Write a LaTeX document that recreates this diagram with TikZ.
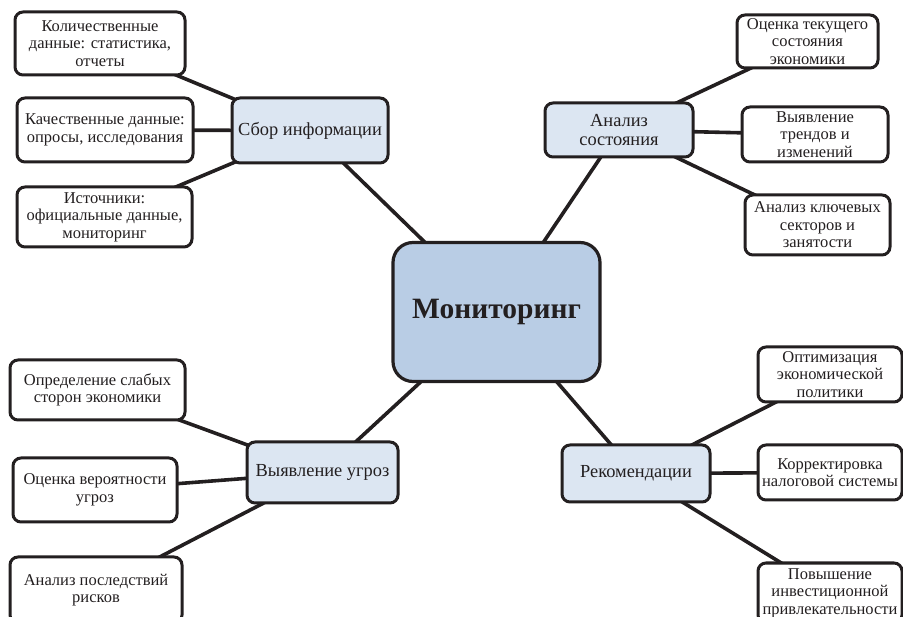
\documentclass[tikz,border=0pt]{standalone}
\usepackage{fontspec}
\setmainfont{Liberation Serif}
\usetikzlibrary{backgrounds}
\definecolor{ink}{HTML}{231F20}
\definecolor{hubfill}{HTML}{DCE6F2}
\definecolor{mainfill}{HTML}{B9CDE5}
\tikzset{
  leaf/.style={draw=ink, line width=3pt, rounded corners=8pt, fill=white, align=center,
    text=ink, inner sep=0pt, font=\fontsize{16.5}{17.5}\selectfont},
  hub/.style={leaf, fill=hubfill, font=\fontsize{18.4}{19.5}\selectfont},
  mainbox/.style={draw=ink, line width=3.2pt, rounded corners=20pt, fill=mainfill, align=center,
    text=ink, inner sep=0pt, font=\fontsize{29.5}{32}\selectfont\bfseries},
  edge/.style={draw=ink, line width=3.6pt}
}
\begin{document}
\begin{tikzpicture}[x=1pt,y=-1pt]
\useasboundingbox (0,0) rectangle (903,617);
\clip (0,0) rectangle (903,617);
\node[mainbox, minimum width=207pt, minimum height=139pt] (c) at (496.5,312) {Мониторинг};
\node[hub, minimum width=156pt, minimum height=65pt] (sbor) at (310,130.5) {Сбор информации};
\node[hub, minimum width=148pt, minimum height=54pt] (an) at (619,130) {Анализ\\состояния};
\node[hub, minimum width=151pt, minimum height=61pt] (vyy) at (322.5,472.5) {Выявление угроз};
\node[hub, minimum width=148pt, minimum height=57pt] (rek) at (636,473.5) {Рекомендации};
\node[leaf, minimum width=170pt, minimum height=63pt] (l1) at (100,43.5) {Количественные\\данные: статистика,\\отчеты};
\node[leaf, minimum width=176pt, minimum height=64pt] (l2) at (105,130) {Качественные данные:\\опросы, исследования};
\node[leaf, minimum width=175pt, minimum height=60pt] (l3) at (104.5,217) {Источники:\\официальные данные,\\мониторинг};
\node[leaf, minimum width=141pt, minimum height=53pt] (r1) at (807.5,41.5) {Оценка текущего\\состояния\\экономики};
\node[leaf, minimum width=146pt, minimum height=55pt] (r2) at (815,134.5) {Выявление\\трендов и\\изменений};
\node[leaf, minimum width=145pt, minimum height=60pt] (r3) at (817.5,225) {Анализ ключевых\\секторов и\\занятости};
\node[leaf, minimum width=175pt, minimum height=60pt] (b1) at (97.5,390) {Определение слабых\\сторон экономики};
\node[leaf, minimum width=164pt, minimum height=64pt] (b2) at (95,490) {Оценка вероятности\\угроз};
\node[leaf, minimum width=172pt, minimum height=66pt] (b3) at (96,590) {Анализ последствий\\рисков};
\node[leaf, minimum width=144pt, minimum height=55pt] (p1) at (830,374.5) {Оптимизация\\экономической\\политики};
\node[leaf, minimum width=144pt, minimum height=55pt] (p2) at (830,472.5) {Корректировка\\налоговой системы};
\node[leaf, minimum width=144pt, minimum height=60pt] (p3) at (830,593) {Повышение\\инвестиционной\\привлекательности};
\begin{pgfonlayer}{background}
\draw[edge] (c.center) -- (sbor.center);
\draw[edge] (c.center) -- (an.center);
\draw[edge] (c.center) -- (vyy.center);
\draw[edge] (c.center) -- (rek.center);
\draw[edge] (sbor.center) -- (l1.center);
\draw[edge] (sbor.center) -- (l2.center);
\draw[edge] (sbor.center) -- (l3.center);
\draw[edge] (an.center) -- (r1.center);
\draw[edge] (an.center) -- (r2.center);
\draw[edge] (an.center) -- (r3.center);
\draw[edge] (vyy.center) -- (b1.center);
\draw[edge] (vyy.center) -- (b2.center);
\draw[edge] (vyy.center) -- (b3.center);
\draw[edge] (rek.center) -- (p1.center);
\draw[edge] (rek.center) -- (p2.center);
\draw[edge] (rek.center) -- (p3.center);
\end{pgfonlayer}
\end{tikzpicture}
\end{document}
